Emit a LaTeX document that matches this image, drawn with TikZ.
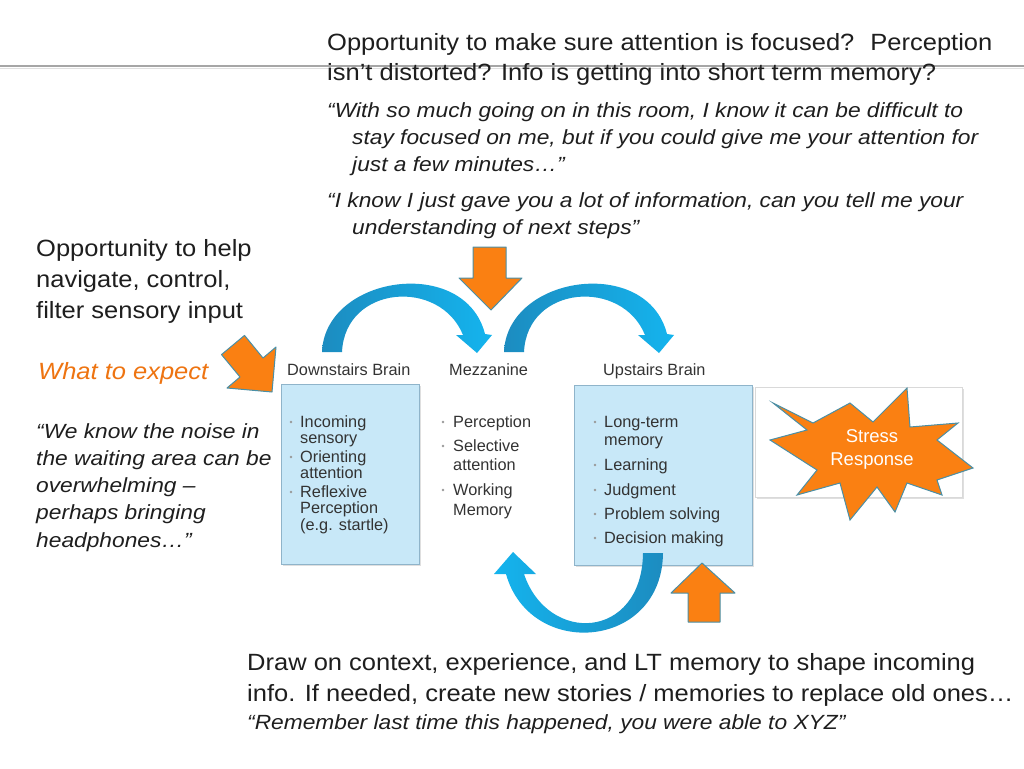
\documentclass[tikz,border=0pt]{standalone}
\usepackage{fontspec}
\setmainfont{Liberation Sans}
\newfontfamily\bigf[FakeStretch=1.085]{Liberation Sans}
\newfontfamily\quof[FakeStretch=1.11]{Liberation Sans}
\usetikzlibrary{shadows}
\definecolor{txt}{HTML}{1E1E1E}
\definecolor{dtxt}{HTML}{333333}
\definecolor{orng}{HTML}{FA8012}
\definecolor{orngline}{HTML}{4A8FA6}
\definecolor{boxfill}{HTML}{C8E8F8}
\definecolor{boxline}{HTML}{8FB4CA}
\definecolor{bluedark}{HTML}{1C8CC0}
\definecolor{bluelight}{HTML}{14B4EE}
\definecolor{whatc}{HTML}{EE7411}
\tikzset{
  big/.style={anchor=base west, inner sep=0pt, text=txt, font=\bigf\fontsize{23.5}{28}\selectfont},
  quo/.style={anchor=base west, inner sep=0pt, text=txt, font=\quof\fontsize{20.5}{24}\selectfont\itshape},
  dia/.style={anchor=base west, inner sep=0pt, text=dtxt, font=\fontsize{16.3}{18}\selectfont},
  bluebox/.style={draw=boxline, fill=boxfill, line width=1pt, anchor=north west, inner sep=0pt,
     drop shadow={opacity=0.25, shadow xshift=1.5pt, shadow yshift=-1.5pt}},
  bul/.style={fill=black!40, draw=none},
  orarrow/.style={fill=orng, draw=orngline, line width=1pt, line join=round},
  barc/.style={draw=none, left color=bluedark, right color=bluelight},
  barcr/.style={draw=none, left color=bluelight, right color=bluedark},
}
\begin{document}
\begin{tikzpicture}[x=1pt, y=-1pt]
\useasboundingbox[fill=white] (0,0) rectangle (1024,768);
% top rule
\draw[black!35, line width=2.5pt] (0,66) -- (1024,66);
\draw[black!12, line width=1.5pt] (0,68.5) -- (1024,68.5);

% top texts
\node[big] (t1) at (327,50) {Opportunity to make sure attention is focused?\hspace{0.28em} Perception};
\node[big] (t2) at (327,80) {isn’t distorted? Info is getting into short term memory?};
\node[quo] (q1) at (327,117) {“With so much going on in this room, I know it can be difficult to};
\node[quo] (q2) at (352,144) {stay focused on me, but if you could give me your attention for};
\node[quo] (q3) at (352,171) {just a few minutes…”};
\node[quo] (q4) at (327,207) {“I know I just gave you a lot of information, can you tell me your};
\node[quo] (q5) at (352,234) {understanding of next steps”};

% left texts
\node[big] (l1) at (36,256) {Opportunity to help};
\node[big] (l2) at (36,287) {navigate, control,};
\node[big] (l3) at (36,318) {filter sensory input};
\node[big, text=whatc, font=\bigf\fontsize{23.5}{28}\selectfont\itshape] (e1) at (38,379) {What to expect};
\node[quo] (w1) at (36,438) {“We know the noise in};
\node[quo] (w2) at (36,465) {the waiting area can be};
\node[quo] (w3) at (36,492) {overwhelming –};
\node[quo] (w4) at (36,519) {perhaps bringing};
\node[quo] (w5) at (36,547) {headphones…”};

% bottom texts
\node[big] (b1) at (247,670) {Draw on context, experience, and LT memory to shape incoming};
\node[big] (b2) at (247,701) {info. If needed, create new stories / memories to replace old ones…};
\node[quo] (b3) at (247,729) {“Remember last time this happened, you were able to XYZ”};

% boxes
\node[bluebox, minimum width=138pt, minimum height=180pt] (down) at (281,384) {};
\node[bluebox, minimum width=178pt, minimum height=180pt] (up) at (574,385) {};
\node[draw=black!15, fill=white, line width=0.8pt, anchor=north west, minimum width=207pt, minimum height=110pt,
  drop shadow={opacity=0.25, shadow xshift=1.5pt, shadow yshift=-1.5pt}] (sbox) at (755,387) {};

% headings
\node[dia] (hd) at (287,375) {Downstairs Brain};
\node[dia] (hm) at (449,375) {Mezzanine};
\node[dia] (hu) at (603,375) {Upstairs Brain};

% downstairs items
\node[dia] (d1) at (300,427) {Incoming};
\node[dia] (d1b) at (300,443) {sensory};
\node[dia] (d2) at (300,462) {Orienting};
\node[dia] (d2b) at (300,478) {attention};
\node[dia] (d3) at (300,497) {Reflexive};
\node[dia] (d3b) at (300,513) {Perception};
\node[dia] (d3c) at (300,530) {(e.g. startle)};
\foreach \yy in {427,462,497} \fill[bul] (291,\yy-5) circle (1.3pt);

% mezzanine items
\node[dia] (m1) at (453,427) {Perception};
\node[dia] (m2) at (453,451) {Selective};
\node[dia] (m2b) at (453,470) {attention};
\node[dia] (m3) at (453,495) {Working};
\node[dia] (m3b) at (453,515) {Memory};
\foreach \yy in {427,451,495} \fill[bul] (443,\yy-5) circle (1.3pt);

% upstairs items
\node[dia] (u1) at (604,427) {Long-term};
\node[dia] (u1b) at (604,445) {memory};
\node[dia] (u2) at (604,470) {Learning};
\node[dia] (u3) at (604,495) {Judgment};
\node[dia] (u4) at (604,519) {Problem solving};
\node[dia] (u5) at (604,543) {Decision making};
\foreach \yy in {427,470,495,519,543} \fill[bul] (595,\yy-5) circle (1.3pt);

% blue arcs
\foreach \dx in {0,182}{
\begin{scope}[xshift=\dx pt]
\path[barc] (322,352) .. controls (325,275) and (465,255) .. (485,334)
  -- (492,335) -- (477,353) -- (456,335) -- (463,335)
  .. controls (440,278) and (345,285) .. (342,352) -- cycle;
\end{scope}}
\path[barcr] (663,553) .. controls (662,650) and (530,660) .. (506,574)
  -- (494,574) -- (513,552) -- (536,574) -- (524,574)
  .. controls (548,645) and (642,640) .. (643,553) -- cycle;

% orange arrows
\draw[orarrow] (473,247) -- (506,247) -- (506,278) -- (522,278) -- (491,310) -- (459,278) -- (473,278) -- cycle;
\draw[orarrow] (688,622) -- (720,622) -- (720,593) -- (735,593) -- (702,563) -- (671,593) -- (688,593) -- cycle;
\draw[orarrow] (244.5,335.4) -- (263,358) -- (276,347) -- (272,392) -- (227,388) -- (240,377) -- (221.5,354.6) -- cycle;

% starburst
\draw[fill=orng, draw=orngline, line width=1pt, line join=miter]
  (773,403) -- (813,423) -- (850,403) -- (873,422) -- (907,388) -- (910,427) -- (958,423)
  -- (937,440) -- (973,468) -- (937,480) -- (942,495) -- (907,483) -- (895,512)
  -- (877,487) -- (850,520) -- (840,483) -- (797,495) -- (817,470) -- (770,440) -- (807,430) -- cycle;
\node[inner sep=0pt, text=white, font=\fontsize{18.5}{23}\selectfont, align=center] (stress) at (872,449) {Stress\\Response};
\end{tikzpicture}
\end{document}
